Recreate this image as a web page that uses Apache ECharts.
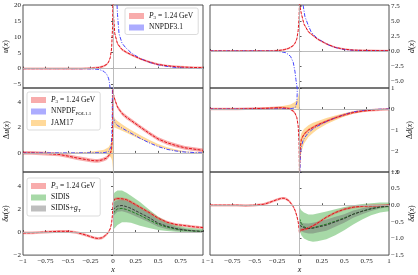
<!DOCTYPE html>
<html><head><meta charset="utf-8">
<script src="https://cdn.jsdelivr.net/npm/echarts@6/dist/echarts.min.js"></script>
<style>html,body{margin:0;padding:0;background:#fff}#c{width:418px;height:275px}</style>
</head><body><div id="c"></div>
<script>
// ---------- data ----------
const xTicks = [-1, -0.75, -0.5, -0.25, 0, 0.25, 0.5, 0.75, 1];
// lattice (P3 = 1.24 GeV) x grid
const latX = [-1,-0.9,-0.8,-0.7,-0.6,-0.5,-0.4,-0.35,-0.3,-0.25,-0.2,-0.17,-0.15,-0.12,-0.1,-0.07,-0.05,-0.03,-0.015,-0.005,0,0.005,0.02,0.05,0.1,0.15,0.2,0.3,0.4,0.5,0.6,0.7,0.8,0.9,1];
const latU  = [0,0,0,0,0,0,0,0,0.05,0.1,0.2,0.3,0.4,0.6,0.8,1.3,2.0,3.5,6.5,13,22,17,11,7.8,6.0,5.1,4.4,3.1,2.1,1.3,0.9,0.6,0.45,0.35,0.3];
const latD  = [0,0,0,0,0,0,0,0,0,0.05,0.15,0.22,0.3,0.45,0.6,0.9,1.3,2.0,3.4,5.5,8.5,7.5,6.3,4.5,3.2,2.6,2.0,1.2,0.6,0.3,0.15,0.1,0.08,0.06,0.05];
const latDU = [0,0,-0.03,-0.07,-0.12,-0.25,-0.4,-0.46,-0.52,-0.58,-0.62,-0.62,-0.6,-0.55,-0.5,-0.4,-0.25,-0.05,0.3,1.5,5.0,4.6,4.2,3.6,3.1,2.8,2.55,2.05,1.55,1.1,0.8,0.58,0.4,0.3,0.2];
const latDD = [0,0,0,0,0.01,0.02,0.03,0.04,0.05,0.06,0.06,0.05,0.04,0.02,0,-0.1,-0.2,-0.4,-0.8,-1.6,-3.2,-2.0,-1.45,-1.2,-1.0,-0.88,-0.76,-0.58,-0.42,-0.28,-0.17,-0.1,-0.06,-0.03,-0.01];
const latTU = [-0.08,-0.07,-0.03,0.02,0.06,0.06,-0.05,-0.15,-0.27,-0.4,-0.52,-0.56,-0.56,-0.5,-0.4,-0.2,0,0.3,0.8,1.6,2.6,2.75,2.85,2.9,2.88,2.8,2.6,2.15,1.7,1.2,0.85,0.65,0.55,0.45,0.38];
const latTD = [0,0,0,0,-0.01,0,0.03,0.07,0.12,0.17,0.21,0.21,0.19,0.14,0.08,-0.04,-0.15,-0.32,-0.5,-0.7,-0.85,-0.75,-0.74,-0.73,-0.69,-0.62,-0.54,-0.36,-0.22,-0.12,-0.06,-0.03,-0.02,-0.01,0];
const latErr = [0.35, 0.15, 0.15, 0.06, 0.12, 0.04]; // half widths per panel

// NNPDF3.1 unpolarized
const nnUnegX = [-1,-0.5,-0.3,-0.2,-0.15,-0.1,-0.07,-0.05,-0.04,-0.033,-0.028];
const nnUnegY = [0,0,-0.05,-0.15,-0.3,-0.9,-1.8,-3.0,-4.3,-6,-8];
const nnUposX = [0.04,0.045,0.05,0.067,0.1,0.14,0.2,0.3,0.4,0.5,0.6,0.7,0.8,0.9,1];
const nnUposY = [25,20,17,11,8,6.6,5.0,3.2,2.0,1.2,0.7,0.35,0.15,0.05,0];
const nnDnegX = [-1,-0.5,-0.3,-0.2,-0.15,-0.13,-0.1,-0.07,-0.05,-0.04,-0.03,-0.022];
const nnDnegY = [0,0,0,-0.15,-0.3,-0.5,-0.9,-1.9,-3.5,-4.8,-5.8,-7];
const nnDposX = [0.035,0.04,0.06,0.095,0.13,0.17,0.22,0.28,0.35,0.47,0.55,0.65,0.8,1];
const nnDposY = [9,7.7,5.8,4.4,3.2,2.5,1.9,1.4,0.8,0.3,0.15,0.1,0.03,0];

// NNPDFpol1.1 helicity
const polUnegX = [-1,-0.5,-0.2,-0.1,-0.05,-0.02,-0.012,-0.008,-0.005];
const polUnegY = [0,0,0.01,0.02,0.1,0.5,1.5,3,7];
const polUposX = [0.003,0.01,0.02,0.05,0.1,0.15,0.2,0.3,0.4,0.5,0.6,0.7,0.8,0.9,1];
const polUposY = [2.8,2.6,2.4,2.15,1.95,1.75,1.55,1.15,0.8,0.5,0.28,0.15,0.07,0.03,0];
const polDnegX = [-1,-0.5,-0.3,-0.1,-0.05,-0.04,-0.03,-0.026,-0.023];
const polDnegY = [0,0,0,0.02,0.05,0.1,0.3,0.7,1.3];
const polDposX = [0.003,0.01,0.02,0.04,0.06,0.1,0.15,0.2,0.3,0.4,0.5,0.6,0.7,0.8,0.9,1];
const polDposY = [-3.2,-2.2,-1.8,-1.5,-1.35,-1.12,-0.95,-0.82,-0.6,-0.42,-0.26,-0.14,-0.07,-0.03,-0.01,0];

// JAM17
const jamUX = [-1,-0.5,-0.3,-0.2,-0.1,-0.05,-0.02,-0.01,-0.003,0.0005,0.005,0.02,0.05,0.1,0.15,0.2,0.3,0.4,0.5,0.6,0.7,0.8,0.9,1];
const jamUC = [0,0,0.02,0.05,0.1,0.15,0.2,0.3,0.4,0.65,2.5,2.35,2.2,2.0,1.8,1.6,1.25,0.92,0.6,0.36,0.2,0.1,0.05,0.02];
const jamUE = [0.02,0.03,0.05,0.08,0.15,0.3,0.6,0.9,1.5,2.25,0.5,0.35,0.3,0.25,0.22,0.2,0.15,0.12,0.1,0.08,0.06,0.04,0.03,0.03];
const jamDX = [-1,-0.5,-0.3,-0.2,-0.1,-0.05,-0.03,-0.015,-0.005,0.002,0.01,0.02,0.05,0.1,0.15,0.2,0.3,0.4,0.5,0.6,0.7,0.8,0.9,1];
const jamDC = [0,0.02,0.04,0.07,0.12,0.18,0.22,0.3,0.35,-2.5,-1.9,-1.6,-1.3,-1.05,-0.9,-0.78,-0.58,-0.42,-0.28,-0.17,-0.1,-0.05,-0.02,0];
const jamDE = [0.01,0.02,0.04,0.06,0.1,0.15,0.2,0.3,0.45,0.8,0.55,0.45,0.35,0.28,0.24,0.2,0.15,0.11,0.08,0.06,0.04,0.03,0.02,0.01];

// SIDIS, SIDIS+gT transversity
const sidX = [0,0.02,0.05,0.1,0.15,0.2,0.3,0.4,0.5,0.6,0.7,0.8,0.9,1];
const sidUC  = [1.6,1.8,2.0,2.05,1.95,1.8,1.45,1.05,0.68,0.42,0.25,0.15,0.08,0.05];
const sidULo = [0.2,0.35,0.6,0.85,0.85,0.8,0.55,0.35,0.18,0.08,0.02,-0.02,-0.04,-0.05];
const sidUHi = [3.2,3.45,3.6,3.6,3.4,3.15,2.6,1.95,1.35,0.9,0.6,0.42,0.32,0.27];
const sgtUC  = [1.9,2.1,2.25,2.3,2.2,2.05,1.65,1.25,0.78,0.5,0.3,0.17,0.1,0.05];
const sgtUE  = [0.6,0.55,0.5,0.5,0.5,0.5,0.45,0.4,0.32,0.25,0.18,0.12,0.08,0.05];
const sidDC  = [-0.4,-0.55,-0.65,-0.7,-0.68,-0.64,-0.57,-0.48,-0.38,-0.27,-0.18,-0.11,-0.06,-0.03];
const sidDLo = [-0.75,-0.9,-1.0,-1.07,-1.1,-1.08,-1.02,-0.9,-0.75,-0.58,-0.43,-0.3,-0.22,-0.18];
const sidDHi = [-0.05,-0.15,-0.22,-0.28,-0.28,-0.25,-0.19,-0.12,-0.05,0.0,0.04,0.06,0.08,0.08];
const sgtDC  = [-0.6,-0.65,-0.68,-0.7,-0.69,-0.66,-0.6,-0.5,-0.4,-0.27,-0.18,-0.1,-0.05,-0.02];
const sgtDE  = [0.12,0.13,0.14,0.15,0.16,0.16,0.17,0.15,0.13,0.11,0.09,0.07,0.05,0.04];

// axis ranges [min, max, step, decimals]
const yRanges = [[-6.1,20,5,0],[-6.2,7.7,2.5,1],[-1.5,5.1,2,0],[-3,1,1,0],[-2,5.2,2,0],[-1.5,1.0,0.5,1]];
const yNames = ['{i|u}({i|x})','{i|d}({i|x})','Δ{i|u}({i|x})','Δ{i|d}({i|x})','{i|δu}({i|x})','{i|δd}({i|x})'];
const legendText = {
  latU:'{i|P}{s|3} = 1.24 GeV', nnU:'NNPDF3.1',
  latDU:'{i|P}{s|3} = 1.24 GeV', nnPol:'NNPDF{s|POL1.1}', jam:'JAM17',
  latTU:'{i|P}{s|3} = 1.24 GeV', sidis:'SIDIS', sgt:'SIDIS+{i|g}{s|T}'
};

// ---------- styling ----------
const FONT = 'Liberation Serif';
const C = {
  redBand:'rgba(240,70,70,0.45)', red:'#e3121b',
  blueBand:'rgba(90,90,255,0.5)', blue:'#4646ff',
  orangeBand:'rgba(255,170,30,0.45)', orange:'#f0a020',
  greenBand:'rgba(60,170,60,0.45)', green:'#1f7f1f',
  grayBand:'rgba(110,110,110,0.45)', gray:'#3a3a3a'
};
const grids = [
  {left:23, top:5, width:180, height:83},
  {left:210, top:5, width:179, height:83},
  {left:23, top:88, width:180, height:84},
  {left:210, top:88, width:179, height:84},
  {left:23, top:172, width:180, height:85},
  {left:210, top:172, width:179, height:85}
].map(g => Object.assign(g, {show:true, borderColor:'#3c3c3c', borderWidth:0.9, backgroundColor:'transparent'}));

function minus(s){ return s.replace('-', '−'); }
function fmtY(v, step, dec){
  const k = v/step;
  if (Math.abs(k - Math.round(k)) > 1e-6) return '';
  const r = Math.round(k)*step;
  return minus(r.toFixed(dec));
}
const xAxes = grids.map((g,i) => ({
  type:'value', gridIndex:i, min:-1, max:1, interval:0.25,
  axisLine:{show:false}, splitLine:{show:false},
  axisTick:{show:true, inside:true, length:2, lineStyle:{color:'#333', width:0.8}},
  axisLabel:{show:i>=4, fontFamily:FONT, fontSize:7, color:'#222', margin:3,
    formatter: v => minus(String(Math.round(v*100)/100))},
  name: i>=4 ? '{i|x}' : '', nameLocation:'middle', nameGap:10,
  nameTextStyle:{fontFamily:FONT, fontSize:8, color:'#111', rich:{i:{fontFamily:FONT, fontSize:8, fontStyle:'italic', color:'#111'}}}
}));
const yAxes = grids.map((g,i) => {
  const [mn,mx,st,dec] = yRanges[i];
  const right = i%2===1;
  return {
    type:'value', gridIndex:i, min:mn, max:mx, minInterval:st, maxInterval:st,
    position: right?'right':'left',
    name: yNames[i], nameLocation:'middle', nameGap: right?17:12, nameRotate:90,
    nameTextStyle:{fontFamily:FONT, fontSize:8, color:'#111', rich:{i:{fontFamily:FONT, fontSize:8, fontStyle:'italic', color:'#111'}}},
    axisLine:{show:false}, splitLine:{show:false},
    axisTick:{show:true, length:2, lineStyle:{color:'#333', width:0.8}},
    axisLabel:{fontFamily:FONT, fontSize:7, color:'#222', margin:2, formatter: v => fmtY(v, st, dec)}
  };
});

function band(gi, name, xs, lo, hi, color){
  return {
    type:'custom', name, xAxisIndex:gi, yAxisIndex:gi, clip:true, silent:true, z:1,
    itemStyle:{color}, data:[[0,0]],
    renderItem(params, api){
      const pts = [];
      for (let i=0;i<xs.length;i++) pts.push(api.coord([xs[i], hi[i]]));
      for (let i=xs.length-1;i>=0;i--) pts.push(api.coord([xs[i], lo[i]]));
      return {type:'polygon', shape:{points:pts}, style:{fill:color}};
    }
  };
}
function bandCE(gi, name, xs, c, e, color){
  const lo = c.map((v,i)=> v - (Array.isArray(e)? e[i] : e));
  const hi = c.map((v,i)=> v + (Array.isArray(e)? e[i] : e));
  return band(gi, name, xs, lo, hi, color);
}
function line(gi, xs, ys, color, type, width){
  return {type:'line', xAxisIndex:gi, yAxisIndex:gi, data:xs.map((x,i)=>[x, ys[i]]),
    showSymbol:false, symbol:'none', clip:true, silent:true, z:4,
    lineStyle:{color, type, width: width||1}};
}
function zero(gi){
  return {type:'line', xAxisIndex:gi, yAxisIndex:gi, data:[[0,0]], showSymbol:false, symbol:'none',
    lineStyle:{opacity:0}, silent:true, z:2,
    markLine:{silent:true, symbol:'none', label:{show:false}, animation:false,
      lineStyle:{color:'#b4b4b4', width:0.9, type:'solid'}, data:[{yAxis:0},{xAxis:0}]}};
}
const DASH = [3,1.3], DASHDOT = [4,1.5,1,1.5];

const series = [];
for (let i=0;i<6;i++) series.push(zero(i));
// top row
series.push(bandCE(0,'latU',latX,latU,latErr[0],C.redBand));
series.push(line(0,nnUnegX,nnUnegY,C.blue,DASHDOT));
series.push(line(0,nnUposX,nnUposY,C.blue,DASHDOT));
series.push(line(0,latX,latU,C.red,DASH));
series.push(bandCE(1,'latD',latX,latD,latErr[1],C.redBand));
series.push(line(1,nnDnegX,nnDnegY,C.blue,DASHDOT));
series.push(line(1,nnDposX,nnDposY,C.blue,DASHDOT));
series.push(line(1,latX,latD,C.red,DASH));
// middle row
series.push(bandCE(2,'jam',jamUX,jamUC,jamUE,C.orangeBand));
series.push(bandCE(2,'latDU',latX,latDU,latErr[2],C.redBand));
series.push(line(2,polUnegX,polUnegY,C.blue,DASHDOT));
series.push(line(2,polUposX,polUposY,C.blue,DASHDOT));
series.push(line(2,latX,latDU,C.red,DASH));
series.push(bandCE(3,'jamD',jamDX,jamDC,jamDE,C.orangeBand));
series.push(bandCE(3,'latDD',latX,latDD,latErr[3],C.redBand));
series.push(line(3,polDnegX,polDnegY,C.blue,DASHDOT));
series.push(line(3,polDposX,polDposY,C.blue,DASHDOT));
series.push(line(3,latX,latDD,C.red,DASH));
// bottom row
series.push(band(4,'sidis',sidX,sidULo,sidUHi,C.greenBand));
series.push(bandCE(4,'sgt',sidX,sgtUC,sgtUE,C.grayBand));
series.push(bandCE(4,'latTU',latX,latTU,latErr[4],C.redBand));
series.push(line(4,sidX,sidUC,C.green,DASH));
series.push(line(4,sidX,sgtUC,C.gray,DASH));
series.push(line(4,latX,latTU,C.red,DASH));
series.push(band(5,'sidisD',sidX,sidDLo,sidDHi,C.greenBand));
series.push(bandCE(5,'sgtD',sidX,sgtDC,sgtDE,C.grayBand));
series.push(bandCE(5,'latTD',latX,latTD,latErr[5],C.redBand));
series.push(line(5,sidX,sidDC,C.green,DASH));
series.push(line(5,sidX,sgtDC,C.gray,DASH));
series.push(line(5,latX,latTD,C.red,DASH));

const legColor = {latU:C.redBand, nnU:C.blueBand, latDU:C.redBand, nnPol:C.blueBand, jam:C.orangeBand, latTU:C.redBand, sidis:C.greenBand, sgt:C.grayBand};
// dummy series to provide legend entries for NNPDF patches
series.push({type:'custom', name:'nnU', xAxisIndex:0, yAxisIndex:0, itemStyle:{color:C.blueBand}, data:[], renderItem:()=>null});
series.push({type:'custom', name:'nnPol', xAxisIndex:2, yAxisIndex:2, itemStyle:{color:C.blueBand}, data:[], renderItem:()=>null});

function legend(keys, left, top){
  return {
    orient:'vertical', left, top, icon:'rect', itemWidth:15, itemHeight:6, itemGap:3,
    padding:[4,5,3,4], borderColor:'#d2d2d2', borderWidth:0.8, borderRadius:2,
    backgroundColor:'rgba(255,255,255,0.85)', selectedMode:false,
    data: keys.map(k => ({name:k, icon:'rect', itemStyle:{color:legColor[k]}})),
    formatter: n => legendText[n],
    textStyle:{fontFamily:FONT, fontSize:7.5, color:'#111', padding:[0,0,0,0],
      rich:{ i:{fontFamily:FONT, fontSize:7.5, fontStyle:'italic', color:'#111'},
             s:{fontFamily:FONT, fontSize:5, color:'#111', verticalAlign:'bottom', padding:[4,0,0,0]} }}
  };
}

const chart = echarts.init(document.getElementById('c'), null, {renderer:'canvas'});
chart.setOption({
  animation:false,
  grid: grids, xAxis: xAxes, yAxis: yAxes, series,
  legend: [legend(['latU','nnU'],125,8), legend(['latDU','nnPol','jam'],27,92), legend(['latTU','sidis','sgt'],27,178)]
});
</script></body></html>
